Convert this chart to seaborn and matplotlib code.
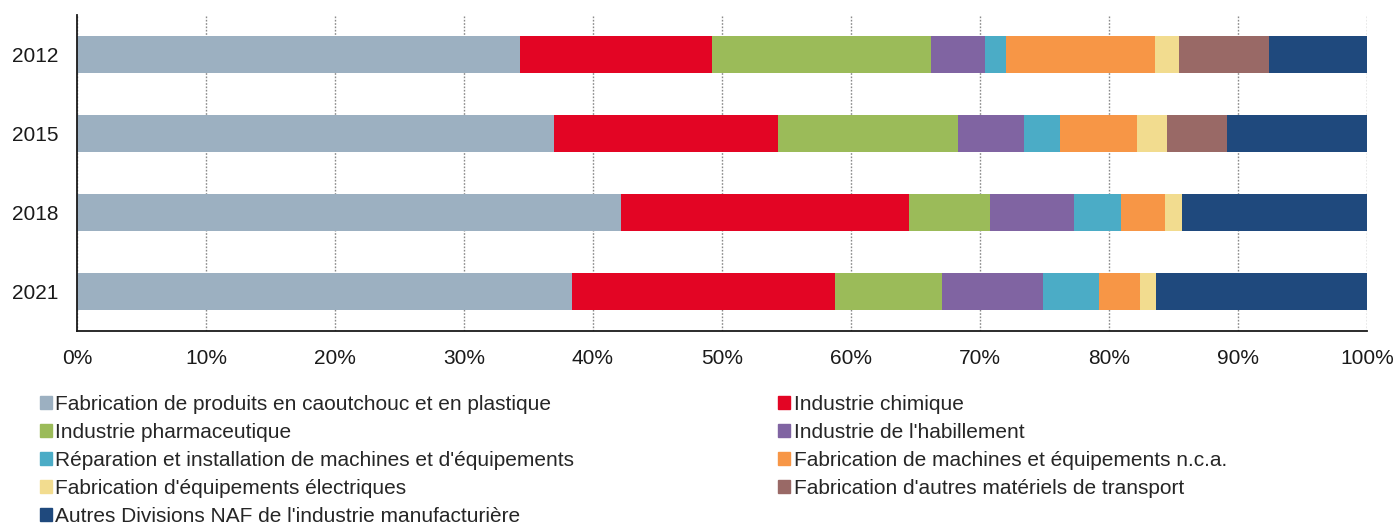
import pandas as pd
import numpy as np
import matplotlib
matplotlib.use('Agg')
import matplotlib.pyplot as plt
import matplotlib.patches as mpatches
import seaborn as sns

# Data (share in %)
years = ['2012', '2015', '2018', '2021']
categories = [
    "Fabrication de produits en caoutchouc et en plastique",
    "Industrie chimique",
    "Industrie pharmaceutique",
    "Industrie de l'habillement",
    "Réparation et installation de machines et d'équipements",
    "Fabrication de machines et équipements n.c.a.",
    "Fabrication d'équipements électriques",
    "Fabrication d'autres matériels de transport",
    "Autres Divisions NAF de l'industrie manufacturière",
]
caoutchouc = [34.33, 36.99, 42.21, 38.41]
chimique = [14.93, 17.37, 22.25, 20.34]
pharma = [16.97, 13.93, 6.31, 8.30]
habillement = [4.18, 5.14, 6.55, 7.86]
reparation = [1.63, 2.80, 3.62, 4.33]
machines = [11.56, 5.95, 3.44, 3.15]
electriques = [1.80, 2.34, 1.27, 1.24]
transport = [6.99, 4.61, 0.0, 0.0]
autres = [7.61, 10.87, 14.35, 16.37]

colors = ['#9CB0C1', '#E30524', '#9BBB59', '#8064A2', '#4BACC6',
          '#F79646', '#F2DC8F', '#996966', '#1F497D']

df = pd.DataFrame(
    dict(zip(categories, [caoutchouc, chimique, pharma, habillement, reparation,
                          machines, electriques, transport, autres])),
    index=years,
)
cum = df.cumsum(axis=1)

sns.set_style('white')
plt.rcParams['font.family'] = ['Liberation Sans', 'DejaVu Sans']
fs = 15

fig = plt.figure(figsize=(13.97, 5.24), dpi=100)
ax = fig.add_axes([0.0551, 1 - 331 / 524, 0.9234, 316 / 524])

# stacked bars: draw cumulative totals from the last series to the first
for cat, col in reversed(list(zip(categories, colors))):
    sns.barplot(x=cum[cat].values, y=years, color=col, orient='h',
                width=0.475, saturation=1, edgecolor='none', ax=ax)

ax.set_xlim(0, 100)
ax.set_ylim(3.5, -0.5)
ax.set_xticks(np.arange(0, 101, 10))
ax.set_xticklabels([f'{v}%' for v in range(0, 101, 10)])
ax.set_xlabel('')
ax.set_ylabel('')
ax.tick_params(axis='both', length=0, labelsize=fs, colors='#1a1a1a')
ax.tick_params(axis='x', pad=13)
ax.tick_params(axis='y', pad=13.5)
ax.set_axisbelow(True)
ax.xaxis.grid(True, linestyle=(0, (1.2, 1.2)), color='#8a8a8a', linewidth=1)
ax.yaxis.grid(False)
for side in ['top', 'right']:
    ax.spines[side].set_visible(False)
for side in ['left', 'bottom']:
    ax.spines[side].set_color('#1a1a1a')
    ax.spines[side].set_linewidth(1.3)

# legend, filled row by row over two columns
handles = [mpatches.Patch(color=c, label=l) for l, c in zip(categories, colors)]
order = [0, 2, 4, 6, 8, 1, 3, 5, 7]
fig.legend([handles[i] for i in order], [categories[i] for i in order],
           loc='upper left', bbox_to_anchor=(0.0286, 0.247), ncol=2,
           frameon=False, fontsize=fs, handlelength=0.58, handleheight=0.58,
           handletextpad=0.15, labelspacing=0.44, columnspacing=9.8,
           borderaxespad=0, borderpad=0)

fig.savefig('out.png', dpi=100)
